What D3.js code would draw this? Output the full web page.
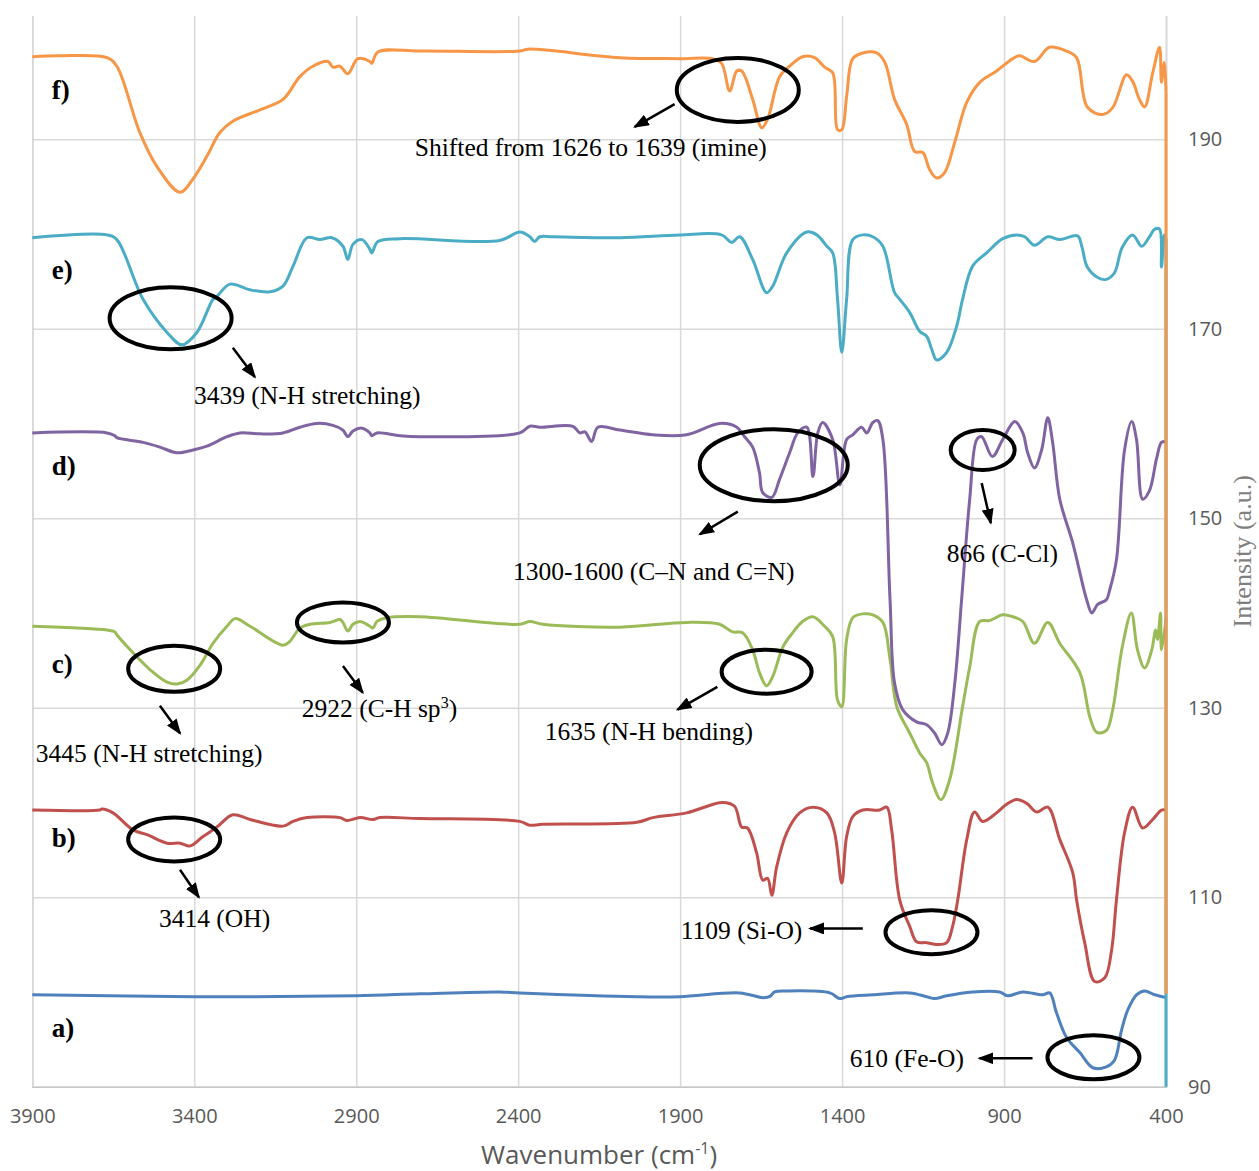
<!DOCTYPE html>
<html>
<head>
<meta charset="utf-8">
<script src="https://cdn.jsdelivr.net/npm/d3@7"></script>
<style>
  body { margin: 0; background: #fff; }
</style>
</head>
<body>
<div id="chart-area"></div>
<script>
// FTIR spectra a) - f), stacked with offsets
// [wavenumber, intensity]
const seriesA = [[3900,99.7],[3401,99.5],[2901,99.6],[2704,99.8],[2457,100.0],[2395,99.9],[2034,99.5],[1901,99.5],[1716,99.9],[1645,99.4],[1624,99.5],[1608,100.0],[1571,100.1],[1438,99.9],[1407,99.3],[1386,99.5],[1305,99.7],[1191,99.9],[1139,99.5],[1114,99.3],[1077,99.6],[997,100.0],[914,100.0],[889,99.6],[842,100.0],[781,99.7],[759,99.9],[738,97.8],[707,95.2],[666,93.6],[626,92.0],[584,92.1],[559,92.8],[537,96.0],[518,98.1],[491,99.7],[466,100.1],[435,99.7],[400,99.4]];

const seriesB = [[3900,119.2],[3691,119.2],[3685,119.3],[3651,118.9],[3589,117.1],[3546,116.6],[3484,115.7],[3444,115.7],[3413,115.4],[3373,116.4],[3330,117.4],[3281,118.7],[3228,118.2],[3126,117.5],[3095,118.0],[3052,118.4],[2950,118.4],[2929,118.1],[2888,118.4],[2848,118.2],[2827,118.4],[2704,118.3],[2395,118.0],[2364,117.6],[2324,117.7],[2034,117.9],[1984,118.4],[1880,118.9],[1769,120.0],[1732,119.6],[1710,117.4],[1692,117.3],[1664,114.7],[1645,111.8],[1630,112.0],[1617,110.2],[1602,113.2],[1571,116.8],[1531,118.9],[1490,119.5],[1447,118.9],[1423,116.8],[1401,111.5],[1386,116.4],[1367,118.5],[1336,119.2],[1284,119.2],[1262,119.5],[1247,117.1],[1222,109.7],[1191,106.9],[1170,105.3],[1139,105.2],[1108,105.0],[1077,105.2],[1059,106.9],[1043,109.7],[1015,116.1],[991,119.0],[966,118.0],[923,118.9],[892,119.8],[861,120.3],[830,119.9],[799,119.0],[765,119.5],[728,116.1],[688,112.6],[676,109.7],[651,105.2],[620,101.1],[589,101.5],[568,104.4],[553,109.7],[528,116.8],[503,119.5],[472,117.3],[441,118.2],[414,119.2],[400,119.2]];

const seriesC = [[3900,138.6],[3669,138.2],[3645,138.0],[3639,137.7],[3589,135.8],[3536,134.0],[3484,132.7],[3453,132.5],[3423,132.9],[3382,134.5],[3342,136.8],[3299,138.6],[3274,139.4],[3228,138.6],[3126,136.6],[3105,137.0],[3074,138.4],[3043,138.8],[2981,139.0],[2950,139.3],[2941,139.0],[2926,138.1],[2910,138.8],[2888,139.1],[2858,138.6],[2848,138.4],[2836,139.1],[2805,139.5],[2704,139.6],[2395,138.8],[2364,139.1],[2324,138.8],[2086,138.5],[1880,139.0],[1778,138.8],[1738,138.0],[1707,137.9],[1676,136.1],[1655,133.7],[1633,132.3],[1614,133.3],[1583,136.4],[1553,137.9],[1522,139.1],[1490,139.6],[1454,138.6],[1429,137.5],[1414,130.8],[1401,130.1],[1386,137.2],[1367,139.5],[1336,139.9],[1305,139.8],[1274,139.0],[1252,135.1],[1231,130.1],[1191,127.3],[1160,125.2],[1139,124.2],[1120,122.0],[1095,120.3],[1068,122.4],[1028,130.1],[1006,134.3],[975,139.1],[944,139.2],[904,139.8],[873,139.6],[842,139.1],[806,136.8],[765,139.0],[728,136.8],[666,133.7],[635,129.0],[614,127.4],[584,127.6],[565,129.7],[535,136.4],[507,140.0],[488,136.1],[466,134.2],[444,136.1],[432,138.2],[426,137.2],[417,140.0],[414,136.1],[400,139.3]];

const seriesD = [[3900,159.0],[3669,159.0],[3645,158.7],[3639,158.5],[3558,158.0],[3506,157.5],[3453,156.9],[3404,157.2],[3361,157.6],[3299,158.6],[3259,159.0],[3197,158.9],[3126,159.0],[3074,159.6],[3022,160.0],[2972,159.8],[2941,159.3],[2926,158.6],[2910,159.2],[2882,159.5],[2858,159.0],[2852,158.7],[2836,159.0],[2765,158.7],[2704,158.6],[2395,159.0],[2364,159.7],[2333,159.6],[2231,159.7],[2210,159.0],[2194,159.1],[2173,158.1],[2154,159.6],[2086,159.3],[1984,158.8],[1880,158.8],[1778,160.0],[1725,159.6],[1701,158.6],[1676,157.5],[1655,154.8],[1645,152.7],[1617,152.2],[1593,154.1],[1562,156.9],[1537,159.0],[1509,159.6],[1490,154.4],[1475,159.0],[1460,160.1],[1429,158.3],[1407,153.5],[1386,158.3],[1367,158.8],[1340,159.6],[1324,159.0],[1305,160.1],[1290,160.3],[1274,158.3],[1252,141.4],[1238,132.6],[1213,129.8],[1170,128.5],[1139,128.2],[1114,127.3],[1092,126.1],[1074,127.3],[1052,132.6],[1031,141.4],[1006,152.0],[984,158.3],[969,158.6],[936,156.5],[904,158.3],[867,160.2],[842,159.0],[827,156.9],[806,155.3],[784,157.2],[765,160.6],[750,158.0],[728,152.0],[688,147.4],[645,141.4],[629,140.0],[611,140.9],[584,141.4],[574,142.4],[553,145.6],[528,157.2],[506,160.2],[491,158.3],[472,152.0],[451,152.9],[429,156.3],[414,158.0],[400,158.1]];

const seriesE = [[3900,179.6],[3669,179.9],[3639,179.4],[3558,173.1],[3484,169.6],[3438,168.3],[3392,169.6],[3342,173.1],[3330,173.4],[3290,174.7],[3228,174.1],[3166,173.9],[3126,174.5],[3095,176.6],[3052,179.6],[3012,179.4],[2975,179.6],[2941,178.7],[2926,177.3],[2910,178.9],[2882,179.4],[2858,178.4],[2852,178.0],[2833,179.2],[2765,179.5],[2457,179.3],[2395,180.2],[2364,179.7],[2349,179.2],[2333,179.7],[2293,179.7],[2086,179.6],[1901,179.9],[1772,179.9],[1741,179.1],[1716,179.7],[1676,177.3],[1633,173.8],[1614,174.5],[1571,178.0],[1509,180.2],[1478,179.9],[1447,178.7],[1429,178.0],[1414,173.1],[1401,167.5],[1386,173.1],[1367,179.4],[1336,179.9],[1305,179.7],[1274,178.7],[1238,173.8],[1222,173.1],[1191,171.7],[1160,169.7],[1139,169.2],[1123,167.8],[1108,166.7],[1077,167.5],[1046,170.3],[1028,173.1],[997,176.6],[954,178.0],[904,179.5],[861,179.9],[836,179.7],[806,178.8],[765,179.7],[728,179.4],[673,179.8],[660,178.7],[643,176.5],[611,175.4],[584,175.2],[559,175.9],[535,178.6],[503,179.9],[475,178.7],[451,179.7],[435,180.5],[420,180.5],[414,176.5],[405,179.9],[400,179.4],[400,90]];

const seriesF = [[3900,198.7],[3815,198.8],[3669,198.6],[3639,197.7],[3568,190.7],[3515,187.1],[3444,184.4],[3404,185.8],[3361,188.2],[3321,190.7],[3281,191.9],[3197,193.1],[3126,194.2],[3074,196.6],[3034,197.7],[2987,198.2],[2972,197.6],[2950,197.7],[2926,196.9],[2895,198.5],[2858,198.2],[2852,198.0],[2833,199.2],[2704,199.3],[2395,199.3],[2370,199.5],[2086,198.6],[1901,198.5],[1800,198.5],[1772,198.0],[1747,195.1],[1725,197.2],[1710,197.2],[1676,194.2],[1648,191.2],[1630,192.1],[1593,196.6],[1562,197.7],[1522,198.7],[1485,198.6],[1454,197.6],[1429,197.0],[1414,191.0],[1401,191.0],[1386,194.5],[1367,198.5],[1336,199.1],[1293,199.1],[1268,198.1],[1238,194.2],[1201,191.6],[1176,188.7],[1151,188.6],[1130,186.8],[1108,185.9],[1083,186.5],[1052,189.7],[1015,193.9],[975,196.0],[923,197.2],[873,198.5],[852,198.8],[806,198.2],[760,199.7],[707,199.3],[676,198.6],[643,193.4],[596,192.6],[565,193.3],[522,196.8],[503,196.1],[482,194.2],[466,193.4],[441,197.0],[420,199.7],[414,196.0],[405,198.1],[400,194.9],[400,99.8]];

const seriesList = [seriesA, seriesB, seriesC, seriesD, seriesE, seriesF];
const seriesNames = ['a)', 'b)', 'c)', 'd)', 'e)', 'f)'];
const seriesColors = ['#4f81bd', '#c0504d', '#9bbb59', '#8064a2', '#4bacc6', '#f79646'];
const labelValues = [95.2, 115.3, 133.7, 154.6, 175.2, 194.2];

const xTicks = [3900, 3400, 2900, 2400, 1900, 1400, 900, 400];
const yTicks = [90, 110, 130, 150, 170, 190];

// annotations: ellipse centre [wn, intensity]
const ellipses = [[1722,195.2],[3473,171.1],[1611,155.6],[966,157.2],[3462,134.1],[2941,139.0],[1633,133.8],[3462,116.1],[1124,106.3],[624,93.1]];
const ellipseSizes = [[61,32],[61,31],[74,36],[32,20],[46,23],[46,20],[45,22],[46,22],[46,22],[46,22]];
// arrows: [fromWn, fromI, toWn, toI]
const arrows = [[1917,193.7,2040,191.3],[3281,168.0,3213,164.9],[1722,150.7,1839,148.3],[969,153.7,941,149.5],[3506,130.2,3444,127.3],[2941,134.4,2880,131.6],[1785,132.2,1908,129.8],[3444,112.9,3386,110.0],[1336,106.7,1499,106.7],[812,93.0,976,93.0]];
// notes: [text, wn, intensity] (left end, baseline)
const notes = [
  ['Shifted from 1626 to 1639 (imine)', 2719, 188.2],
  ['3439 (N-H stretching)', 3401, 162.0],
  ['1300-1600 (C\u2013N and C=N)', 2416, 143.5],
  ['866 (C-Cl)', 1077, 145.4],
  ['3445 (N-H stretching)', 3889, 124.3],
  ['1635 (N-H bending)', 2318, 126.6],
  ['3414 (OH)', 3509, 106.9],
  ['1109 (Si-O)', 1898, 105.6],
  ['610 (Fe-O)', 1376, 92.1]
];

const W = 1259, H = 1171;
const plot = { left: 32.3, right: 1166, top: 16, bottom: 1086.7 };

const svg = d3.select('#chart-area')
  .append('svg')
    .attr('width', W)
    .attr('height', H);

// Scales
const x = d3.scaleLinear()
  .domain([3900, 400])
  .range([plot.left, plot.right]);

const y = d3.scaleLinear()
  .domain([90, 203])
  .range([plot.bottom, plot.top]);

// Y axis (right) with gridlines
const yAxisCall = d3.axisRight(y)
  .tickValues(yTicks)
  .tickSize(-(plot.right - plot.left))
  .tickPadding(22);
const yAxis = svg.append('g')
  .attr('transform', 'translate(' + plot.right + ',0)')
  .call(yAxisCall);
yAxis.select('.domain').remove();
yAxis.selectAll('line').attr('stroke', '#d9d9d9').attr('stroke-width', 1.5);
yAxis.selectAll('text')
  .attr('font-family', 'Open Sans, sans-serif')
  .attr('font-size', '20px')
  .attr('fill', '#595959');

// X axis with gridlines
const xAxisCall = d3.axisBottom(x)
  .tickValues(xTicks)
  .tickFormat(d3.format('d'))
  .tickSize(-(plot.bottom - plot.top))
  .tickPadding(22);
const xAxis = svg.append('g')
  .attr('transform', 'translate(0,' + plot.bottom + ')')
  .call(xAxisCall);
xAxis.select('.domain').attr('stroke', '#c6c6c6').attr('stroke-width', 1.5);
xAxis.selectAll('line').attr('stroke', '#d9d9d9').attr('stroke-width', 1.5);
xAxis.selectAll('text')
  .attr('font-family', 'Open Sans, sans-serif')
  .attr('font-size', '20px')
  .attr('fill', '#595959');

// Axis titles
const xLabel = svg.append('text')
  .attr('x', (plot.left + plot.right) / 2)
  .attr('y', 1164)
  .attr('text-anchor', 'middle')
  .attr('font-family', 'Open Sans, sans-serif')
  .attr('font-size', '26px')
  .attr('fill', '#595959');
xLabel.append('tspan').text('Wavenumber (cm');
xLabel.append('tspan').attr('dy', -10).attr('font-size', '16px').text('-1');
xLabel.append('tspan').attr('dy', 10).text(')');

svg.append('text')
  .attr('transform', 'translate(1251,' + ((plot.top + plot.bottom) / 2) + ') rotate(-90)')
  .attr('text-anchor', 'middle')
  .attr('font-family', 'Liberation Serif, Times New Roman, serif')
  .attr('font-size', '26px')
  .attr('fill', '#7f7f7f')
  .text('Intensity (a.u.)');

// Spectra
const curve = d3.line()
  .curve(d3.curveCatmullRom.alpha(0.5))
  .x((d) => { return x(d[0]); })
  .y((d) => { return y(d[1]); });

const straight = d3.line()
  .x((d) => { return x(d[0]); })
  .y((d) => { return y(d[1]); });

seriesList.forEach((data, i) => {
  const n = data.length;
  // a trailing point at the same wavenumber is the vertical drop at 400
  const hasDrop = data[n - 1][0] === data[n - 2][0];
  const body = hasDrop ? data.slice(0, n - 1) : data;
  svg.append('path')
    .datum(body)
    .attr('fill', 'none')
    .attr('stroke', seriesColors[i])
    .attr('stroke-width', 3)
    .attr('stroke-linejoin', 'round')
    .attr('d', curve);
  if (hasDrop) {
    svg.append('path')
      .datum(data.slice(n - 2))
      .attr('fill', 'none')
      .attr('stroke', seriesColors[i])
      .attr('stroke-width', 3)
      .attr('d', straight);
  }
});

// Series labels
seriesNames.forEach((name, i) => {
  svg.append('text')
    .attr('x', x(3840))
    .attr('y', y(labelValues[i]))
    .attr('font-family', 'Liberation Serif, Times New Roman, serif')
    .attr('font-weight', 'bold')
    .attr('font-size', '27px')
    .attr('fill', '#000')
    .text(name);
});

// Annotations
const defs = svg.append('defs');
defs.append('marker')
  .attr('id', 'arrow')
  .attr('viewBox', '0 0 16 12')
  .attr('refX', 14)
  .attr('refY', 6)
  .attr('markerWidth', 16)
  .attr('markerHeight', 12)
  .attr('markerUnits', 'userSpaceOnUse')
  .attr('orient', 'auto')
  .append('path')
    .attr('d', 'M0,0 L16,6 L0,12 Z')
    .attr('fill', '#000');

ellipses.forEach((c, i) => {
  svg.append('ellipse')
    .attr('cx', x(c[0]))
    .attr('cy', y(c[1]))
    .attr('rx', ellipseSizes[i][0])
    .attr('ry', ellipseSizes[i][1])
    .attr('fill', 'none')
    .attr('stroke', '#000')
    .attr('stroke-width', 4);
});

arrows.forEach((a) => {
  svg.append('line')
    .attr('x1', x(a[0]))
    .attr('y1', y(a[1]))
    .attr('x2', x(a[2]))
    .attr('y2', y(a[3]))
    .attr('stroke', '#000')
    .attr('stroke-width', 2.5)
    .attr('marker-end', 'url(#arrow)');
});

notes.forEach((n) => {
  svg.append('text')
    .attr('x', x(n[1]))
    .attr('y', y(n[2]))
    .attr('font-family', 'Liberation Serif, Times New Roman, serif')
    .attr('font-size', '25.5px')
    .attr('fill', '#000')
    .text(n[0]);
});

// note with superscript
const ch = svg.append('text')
  .attr('x', x(3068))
  .attr('y', y(129.0))
  .attr('font-family', 'Liberation Serif, Times New Roman, serif')
  .attr('font-size', '25.5px')
  .attr('fill', '#000');
ch.append('tspan').text('2922 (C-H sp');
ch.append('tspan').attr('dy', -9).attr('font-size', '16px').text('3');
ch.append('tspan').attr('dy', 9).text(')');
</script>
</body>
</html>
